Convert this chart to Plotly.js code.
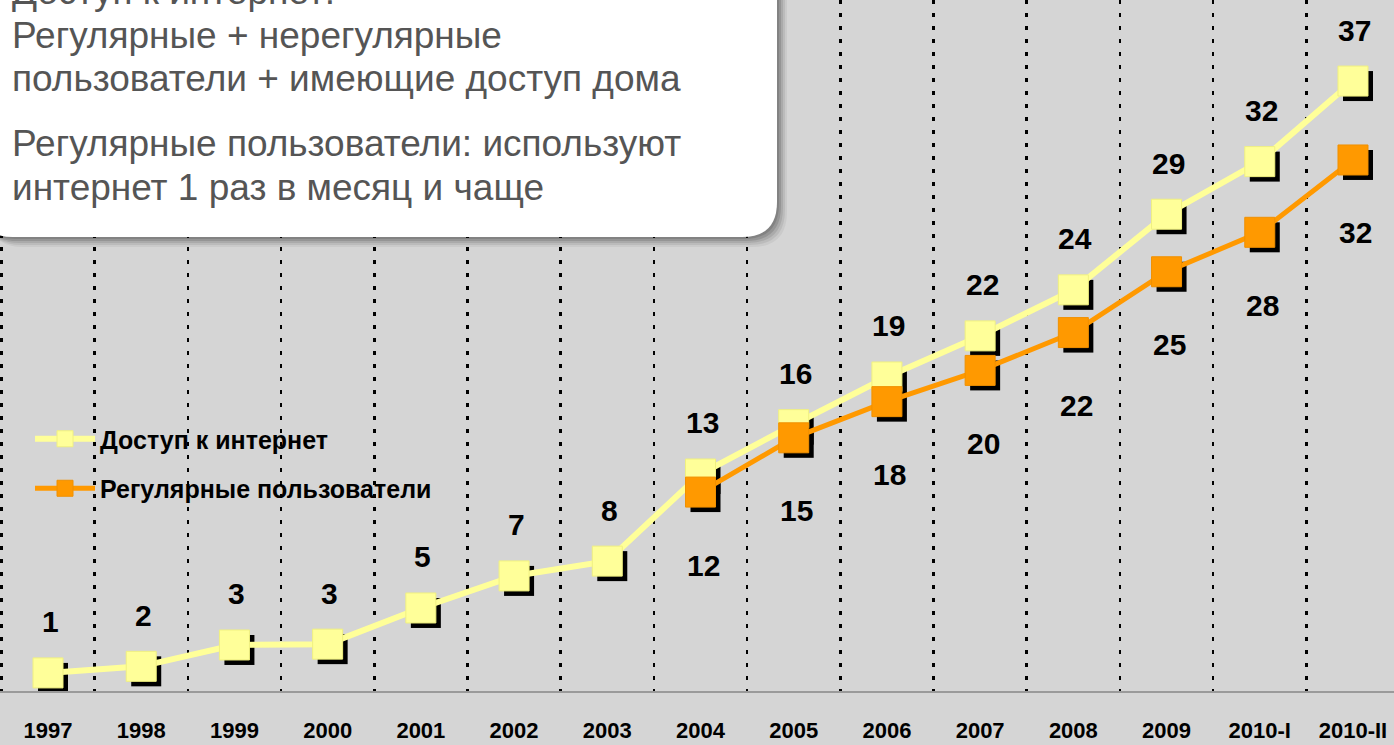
<!DOCTYPE html>
<html>
<head>
<meta charset="utf-8">
<script src="https://cdn.plot.ly/plotly-3.0.1.min.js"></script>
<style>
  html, body { margin: 0; padding: 0; background: #d5d5d5; }
  #chart { width: 1394px; height: 745px; }
</style>
</head>
<body>
<div id="chart"></div>
<script>
// categories and values
const years = ['1997', '1998', '1999', '2000', '2001', '2002', '2003', '2004',
               '2005', '2006', '2007', '2008', '2009', '2010-I', '2010-II'];
const accessValues = [1.0, 1.4, 2.7, 2.75, 4.95, 6.9, 7.8, 13.1, 16.1, 19.0, 21.5, 24.3, 28.9, 32.1, 37.0];
const accessLabels = ['1', '2', '3', '3', '5', '7', '8', '13', '16', '19', '22', '24', '29', '32', '37'];
const regularValues = [null, null, null, null, null, null, null, 12.0, 15.3, 17.5, 19.4, 21.7, 25.4, 27.8, 32.2];
const regularLabels = [null, null, null, null, null, null, null, '12', '15', '18', '20', '22', '25', '28', '32'];

const noteLines = [
    'Доступ к интернет:',
    'Регулярные + нерегулярные',
    'пользователи + имеющие доступ дома',
    'Регулярные пользователи: используют',
    'интернет 1 раз в месяц и чаще'
];
const noteBaselines = [3, 47, 91, 155, 199];

// geometry
const W = 1394, H = 745, MB = 54;
const PH = H - MB;
const xRange = [-0.515, 14.44];
const yRange = [-0.1, 41.93];
const pxX = W / (xRange[1] - xRange[0]);
const pxY = PH / (yRange[1] - yRange[0]);
const SH = 5; // marker shadow offset, px

const idx = years.map((_, i) => i);
const halves = [-0.5].concat(idx.map(i => i + 0.5));

const YELLOW = '#ffff99';
const ORANGE = '#ff9900';
const FONT = 'Liberation Sans, Arial, sans-serif';

function shadowTrace(vals) {
    return {
        x: idx.map(i => i + SH / pxX),
        y: vals.map(v => v == null ? null : v - SH / pxY),
        type: 'scatter', mode: 'markers', showlegend: false, hoverinfo: 'skip',
        marker: { symbol: 'square', size: 30, color: '#000' }
    };
}

const traces = [
    shadowTrace(accessValues),
    {
        x: idx, y: accessValues, name: 'Доступ к интернет',
        type: 'scatter', mode: 'lines+markers', legendgroup: 'a',
        line: { color: YELLOW, width: 6 },
        marker: { symbol: 'square', size: 30, color: YELLOW, line: { width: 1, color: '#f0f080' } }
    },
    shadowTrace(regularValues),
    {
        x: idx, y: regularValues, name: 'Регулярные пользователи',
        type: 'scatter', mode: 'lines+markers', legendgroup: 'b',
        line: { color: ORANGE, width: 5 },
        marker: { symbol: 'square', size: 30, color: ORANGE, line: { width: 1, color: '#f09000' } }
    }
];

const annotations = [];
accessValues.forEach((v, i) => {
    annotations.push({
        x: i, y: v, xref: 'x', yref: 'y', text: accessLabels[i], showarrow: false,
        xshift: 2, yshift: 51, yanchor: 'middle',
        font: { family: FONT, size: 30, weight: 'bold', color: '#000' }
    });
});
regularValues.forEach((v, i) => {
    if (v == null) return;
    annotations.push({
        x: i, y: v, xref: 'x', yref: 'y', text: regularLabels[i], showarrow: false,
        xshift: 3, yshift: -73, yanchor: 'middle',
        font: { family: FONT, size: 30, weight: 'bold', color: '#000' }
    });
});
noteLines.forEach((t, i) => {
    annotations.push({
        x: 10 / W, y: 1 - (noteBaselines[i] - 12) / PH, xref: 'paper', yref: 'paper',
        text: t, showarrow: false, xanchor: 'left', yanchor: 'middle', align: 'left',
        font: { family: FONT, size: 37, color: '#555555' }
    });
});

// rounded note box
function px(x) { return x / W; }
function py(y) { return 1 - y / PH; }
function boxPath(l, t, r, b, rad) {
    return `M ${px(l)},${py(t)} L ${px(r)},${py(t)} L ${px(r)},${py(b - rad)} ` +
           `Q ${px(r)},${py(b)} ${px(r - rad)},${py(b)} L ${px(l + rad)},${py(b)} ` +
           `Q ${px(l)},${py(b)} ${px(l)},${py(b - rad)} Z`;
}
const shapes = [];
[[10, 0.05], [8, 0.07], [6, 0.09], [4, 0.12], [2, 0.12]].forEach(([o, a]) => {
    shapes.push({
        type: 'path', xref: 'paper', yref: 'paper', layer: 'above',
        path: boxPath(-22 + o, -40 + o, 777 + o, 237 + o, 35),
        fillcolor: `rgba(0,0,0,${a})`, line: { width: 0 }
    });
});
shapes.push({
    type: 'path', xref: 'paper', yref: 'paper', layer: 'above',
    path: boxPath(-22, -40, 777, 237, 35),
    fillcolor: '#ffffff', line: { width: 0 }
});

const layout = {
    width: W, height: H,
    margin: { l: 0, r: 0, t: 0, b: MB },
    paper_bgcolor: '#d5d5d5',
    plot_bgcolor: '#d5d5d5',
    showlegend: true,
    legend: {
        x: 30 / W, y: py(416), xanchor: 'left', yanchor: 'top',
        bgcolor: 'rgba(0,0,0,0)', traceorder: 'grouped', tracegroupgap: 14,
        itemwidth: 60,
        font: { family: FONT, size: 25, weight: 'bold', color: '#000' }
    },
    xaxis: {
        type: 'linear', range: xRange, fixedrange: true,
        tickmode: 'array', tickvals: idx, ticktext: years,
        showgrid: false, zeroline: false, ticks: '',
        showline: true, linecolor: '#9a9a9a', linewidth: 2,
        ticklabelstandoff: 19,
        tickfont: { family: FONT, size: 22, weight: 'bold', color: '#000' },
        minor: {
            tickmode: 'array', tickvals: halves, ticks: '',
            showgrid: true, gridcolor: '#000', gridwidth: 2.5, griddash: '4px,9px'
        }
    },
    yaxis: {
        range: yRange, fixedrange: true, visible: true,
        showgrid: false, zeroline: false, showticklabels: false, ticks: '', showline: false
    },
    annotations: annotations,
    shapes: shapes
};

Plotly.newPlot('chart', traces, layout, { displayModeBar: false, staticPlot: true });
</script>
</body>
</html>
